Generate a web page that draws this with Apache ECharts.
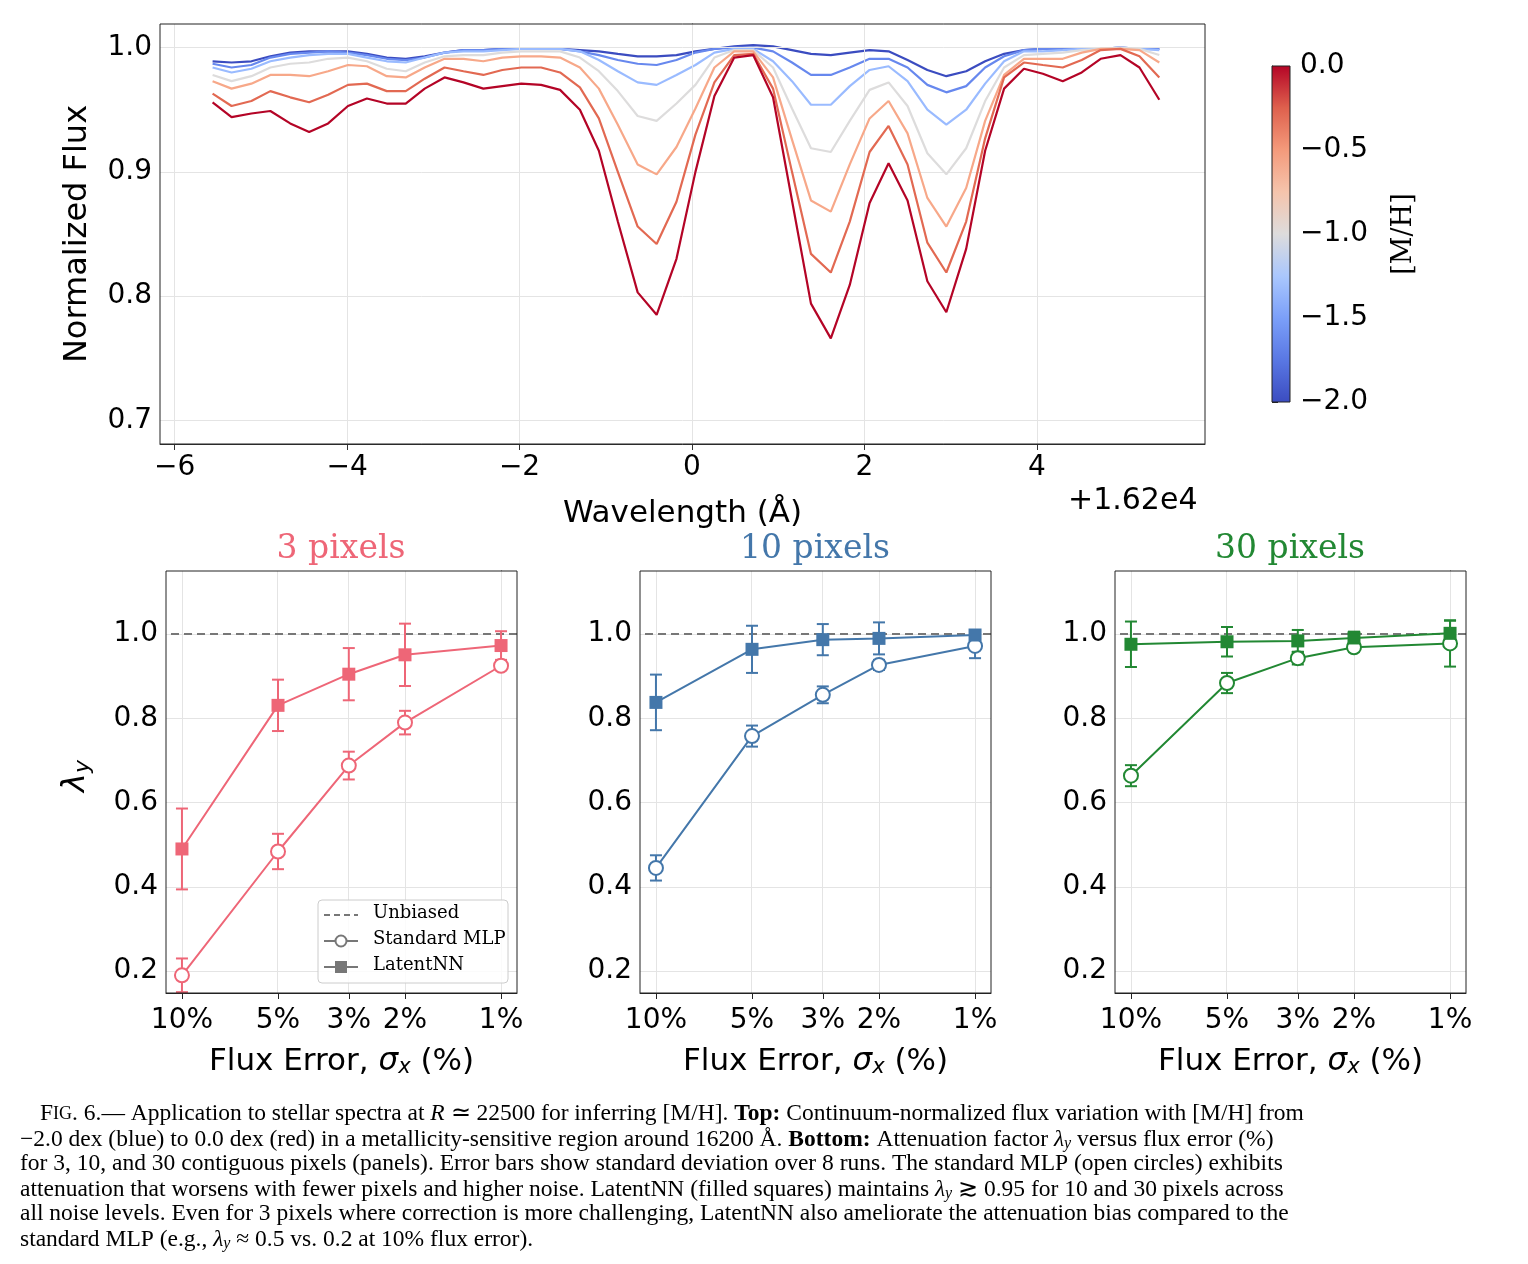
<!DOCTYPE html>
<html lang="en">
<head>
<meta charset="UTF-8" />
<title>Fig 6</title>
<script src="https://cdn.jsdelivr.net/npm/echarts@6/dist/echarts.min.js"></script>
<style>body{margin:0;background:#fff}</style>
</head>
<body>
<div id="main" style="width:1528px;height:1264px"></div>
<script>
// 波长偏移 (+1.62e4 Å)
var wave = [-5.56,-5.34,-5.11,-4.89,-4.66,-4.44,-4.22,-3.99,-3.77,-3.54,-3.32,-3.10,-2.87,-2.65,-2.42,-2.20,-1.98,-1.75,-1.53,-1.30,
  -1.08,-0.86,-0.63,-0.41,-0.18,0.04,0.26,0.49,0.71,0.94,1.16,1.38,1.61,1.83,2.06,2.28,2.50,2.73,2.95,3.18,
  3.40,3.62,3.85,4.07,4.30,4.52,4.74,4.97,5.19,5.42]
var metal = [-2.0, -1.667, -1.333, -1.0, -0.667, -0.333, 0.0]
var metalColors = ["#3b4cc0", "#6788ee", "#9abbff", "#dddcdc", "#f7a889", "#e26952", "#b40426"]
var flux = [
  [0.989,0.988,0.989,0.993,0.996,0.997,0.997,0.997,0.995,0.992,0.991,0.993,0.996,0.998,0.998,0.999,0.999,0.999,0.999,0.998,
   0.997,0.995,0.993,0.993,0.994,0.997,0.999,1.001,1.002,1.001,0.998,0.995,0.994,0.996,0.998,0.997,0.990,0.982,0.977,0.981,
   0.989,0.995,0.998,0.999,0.999,0.999,0.999,1.000,0.999,0.999],
  [0.987,0.984,0.986,0.992,0.995,0.996,0.997,0.996,0.994,0.991,0.990,0.992,0.996,0.998,0.998,0.999,0.999,0.999,0.999,0.997,
   0.994,0.990,0.987,0.986,0.990,0.996,0.999,1.000,1.000,0.997,0.988,0.978,0.978,0.984,0.991,0.991,0.984,0.970,0.964,0.969,
   0.984,0.993,0.998,0.999,0.999,0.999,0.999,1.000,0.999,0.999],
  [0.984,0.980,0.983,0.989,0.992,0.994,0.995,0.995,0.992,0.989,0.988,0.992,0.996,0.997,0.997,0.998,0.999,0.999,0.999,0.997,
   0.990,0.981,0.972,0.970,0.978,0.986,0.996,0.999,0.999,0.989,0.973,0.954,0.954,0.969,0.982,0.985,0.973,0.950,0.938,0.950,
   0.971,0.989,0.997,0.997,0.998,0.999,0.999,1.000,0.999,0.998],
  [0.978,0.973,0.977,0.984,0.987,0.988,0.991,0.992,0.989,0.983,0.981,0.988,0.993,0.994,0.994,0.996,0.997,0.997,0.997,0.992,
   0.981,0.965,0.945,0.941,0.955,0.970,0.992,0.998,0.998,0.984,0.951,0.919,0.916,0.941,0.966,0.972,0.953,0.915,0.898,0.919,
   0.957,0.984,0.994,0.995,0.996,0.998,0.999,1.000,0.999,0.994],
  [0.973,0.967,0.971,0.978,0.978,0.977,0.981,0.986,0.985,0.977,0.976,0.984,0.991,0.991,0.989,0.992,0.993,0.993,0.992,0.984,
   0.967,0.938,0.906,0.898,0.920,0.951,0.984,0.997,0.997,0.976,0.926,0.877,0.868,0.906,0.943,0.957,0.931,0.879,0.856,0.887,
   0.941,0.978,0.991,0.991,0.991,0.996,0.999,0.999,0.998,0.988],
  [0.963,0.953,0.957,0.965,0.960,0.956,0.962,0.970,0.971,0.965,0.965,0.975,0.984,0.981,0.978,0.982,0.984,0.984,0.980,0.968,
   0.943,0.900,0.856,0.842,0.876,0.930,0.972,0.994,0.995,0.967,0.900,0.834,0.819,0.860,0.916,0.937,0.906,0.843,0.819,0.860,
   0.927,0.976,0.988,0.986,0.984,0.990,0.998,0.999,0.993,0.976],
  [0.956,0.944,0.947,0.949,0.939,0.932,0.939,0.953,0.959,0.955,0.955,0.967,0.976,0.972,0.967,0.969,0.971,0.970,0.966,0.950,
   0.917,0.860,0.803,0.785,0.830,0.900,0.961,0.992,0.994,0.960,0.877,0.794,0.766,0.809,0.875,0.907,0.877,0.812,0.787,0.838,
   0.917,0.967,0.983,0.979,0.973,0.980,0.991,0.994,0.984,0.958]
]

// 下方三个面板
var fluxErr = [10, 5, 3, 2, 1]
var panelTitles = ["3 pixels", "10 pixels", "30 pixels"]
var panelColors = ["#ee6677", "#4477aa", "#228833"]
var mlpVals = [[0.190,0.484,0.688,0.790,0.925],[0.445,0.758,0.856,0.927,0.972],[0.664,0.884,0.943,0.969,0.978]]
var mlpErrs = [[0.040,0.042,0.033,0.028,0.010],[0.030,0.025,0.020,0.012,0.029],[0.025,0.024,0.015,0.010,0.055]]
var latVals = [[0.490,0.831,0.905,0.951,0.973],[0.838,0.964,0.987,0.990,0.998],[0.976,0.982,0.984,0.991,1.002]]
var latErrs = [[0.096,0.061,0.062,0.074,0.034],[0.066,0.056,0.037,0.038,0.010],[0.054,0.035,0.026,0.015,0.030]]
var lamTicks = [0.2, 0.4, 0.6, 0.8, 1.0]

var chart = echarts.init(document.getElementById("main"))
var sans = "DejaVu Sans"
var serif = "DejaVu Serif"
var minus = function (s) { return String(s).replace("-", "\u2212") }

var grids = [{ left: 160, top: 24, width: 1045, height: 420 }]
var xAxes = [{
  gridIndex: 0, type: "value", min: -6.17, max: 5.95,
  axisLine: { onZero: false, lineStyle: { color: "#333", width: 1 } },
  axisTick: { customValues: [-6,-4,-2,0,2,4], length: 6, lineStyle: { color: "#333" } },
  axisLabel: { customValues: [-6,-4,-2,0,2,4], fontFamily: sans, fontSize: 28, color: "#000", margin: 10, formatter: minus },
  splitLine: { show: false },
  name: "Wavelength (\u00c5)", nameLocation: "middle", nameGap: 54,
  nameTextStyle: { fontFamily: sans, fontSize: 31, color: "#000" }
}]
var yAxes = [{
  gridIndex: 0, type: "value", min: 0.681, max: 1.019,
  axisLine: { show: true, lineStyle: { color: "#333" } },
  axisTick: { show: true, customValues: [0.7,0.8,0.9,1.0], length: 6, lineStyle: { color: "#333" } },
  axisLabel: { customValues: [0.7,0.8,0.9,1.0], fontFamily: sans, fontSize: 28, color: "#000", formatter: function (v) { return v.toFixed(1) } },
  splitLine: { show: false },
  name: "Normalized Flux", nameLocation: "middle", nameGap: 66,
  nameTextStyle: { fontFamily: sans, fontSize: 32, color: "#000" }
}]
var series = []

function gridLines(xi, xs, ys) {
  var d = []
  xs.forEach(function (v) { d.push({ xAxis: v }) })
  ys.forEach(function (v) { d.push({ yAxis: v }) })
  return {
    type: "line", xAxisIndex: xi, yAxisIndex: xi, data: [], z: 0, silent: true,
    markLine: { silent: true, symbol: "none", label: { show: false }, animation: false,
      lineStyle: { color: "#e4e4e4", width: 1, type: "solid" }, data: d }
  }
}
series.push(gridLines(0, [-6,-4,-2,0,2,4], [0.7,0.8,0.9,1.0]))

flux.forEach(function (arr, k) {
  series.push({
    type: "line", name: String(metal[k]), xAxisIndex: 0, yAxisIndex: 0, showSymbol: false, z: 2 + k,
    lineStyle: { color: metalColors[k], width: 2.2 },
    data: arr.map(function (v, i) { return [wave[i], v] })
  })
})

var lefts = [166, 640, 1115]
var logX = fluxErr.map(function (s) { return Math.log10(s) })
function errBars(xi, vals, errs, color) {
  return {
    type: "custom", xAxisIndex: xi, yAxisIndex: xi, z: 5,
    data: vals.map(function (v, i) { return [logX[i], v, errs[i]] }),
    renderItem: function (params, api) {
      var x = api.value(0), y = api.value(1), e = api.value(2)
      var lo = api.coord([x, y - e]), hi = api.coord([x, y + e])
      var st = { stroke: color, lineWidth: 2 }
      return { type: "group", children: [
        { type: "line", shape: { x1: lo[0], y1: lo[1], x2: hi[0], y2: hi[1] }, style: st },
        { type: "line", shape: { x1: lo[0] - 6, y1: lo[1], x2: lo[0] + 6, y2: lo[1] }, style: st },
        { type: "line", shape: { x1: hi[0] - 6, y1: hi[1], x2: hi[0] + 6, y2: hi[1] }, style: st }
      ] }
    }
  }
}

for (var p = 0; p < 3; p++) {
  var gi = p + 1
  grids.push({ left: lefts[p], top: 571, width: 351, height: 422 })
  xAxes.push({
    gridIndex: gi, type: "value", inverse: true, min: -0.05, max: 1.05,
    axisLine: { onZero: false, lineStyle: { color: "#222" } },
    axisTick: { customValues: logX, length: 6, lineStyle: { color: "#222" } },
    axisLabel: { customValues: logX, fontFamily: sans, fontSize: 28, color: "#000", margin: 14,
      formatter: function (v) { return Math.round(Math.pow(10, v)) + "%" } },
    splitLine: { show: false },
    name: "Flux Error, {i|\u03c3}{s|x} (%)", nameLocation: "middle", nameGap: 52,
    nameTextStyle: { fontFamily: sans, fontSize: 31, color: "#000",
      rich: { i: { fontFamily: sans, fontSize: 31, fontStyle: "italic" }, s: { fontFamily: sans, fontSize: 21, fontStyle: "italic", padding: [12, 0, 0, 0] } } }
  })
  yAxes.push({
    gridIndex: gi, type: "value", min: 0.148, max: 1.15,
    axisLine: { show: true, lineStyle: { color: "#222" } },
    axisTick: { show: true, customValues: lamTicks, length: 6, lineStyle: { color: "#222" } },
    axisLabel: { customValues: lamTicks, fontFamily: sans, fontSize: 28, color: "#000", formatter: function (v) { return v.toFixed(1) } },
    splitLine: { show: false }
  })
  var c = panelColors[p]
  series.push(gridLines(gi, logX, lamTicks))
  series.push({
    type: "line", xAxisIndex: gi, yAxisIndex: gi, data: [], z: 1, silent: true,
    markLine: { silent: true, symbol: "none", label: { show: false }, animation: false,
      lineStyle: { color: "#777", width: 2, type: [8, 5] }, data: [{ yAxis: 1.0 }] }
  })
  series.push(errBars(gi, mlpVals[p], mlpErrs[p], c))
  series.push(errBars(gi, latVals[p], latErrs[p], c))
  series.push({
    type: "line", xAxisIndex: gi, yAxisIndex: gi, z: 6, symbol: "emptyCircle", symbolSize: 14,
    lineStyle: { color: c, width: 2 }, itemStyle: { color: c, borderColor: c, borderWidth: 3 },
    data: mlpVals[p].map(function (v, i) { return [logX[i], v] })
  })
  series.push({
    type: "line", xAxisIndex: gi, yAxisIndex: gi, z: 7, symbol: "rect", symbolSize: 13,
    lineStyle: { color: c, width: 2 }, itemStyle: { color: c },
    data: latVals[p].map(function (v, i) { return [logX[i], v] })
  })
}

// 色标
grids.push({ left: 1272, top: 66, width: 18, height: 336 })
xAxes.push({ gridIndex: 4, type: "value", show: false, min: 0, max: 1 })
yAxes.push({
  gridIndex: 4, type: "value", position: "right", min: -2, max: 0, interval: 0.5,
  axisLine: { show: true, lineStyle: { color: "#222" } },
  axisTick: { show: true, length: 6, lineStyle: { color: "#222" } },
  axisLabel: { fontFamily: sans, fontSize: 28, color: "#000", margin: 10, formatter: function (v) { return minus(v.toFixed(1)) } },
  splitLine: { show: false },
  name: "[M/H]", nameLocation: "middle", nameGap: 100, nameRotate: 90,
  nameTextStyle: { fontFamily: serif, fontSize: 27, color: "#000" }
})
series.push({ type: "line", xAxisIndex: 4, yAxisIndex: 4, data: [] })

var legendX = 318, legendY = 900
var capY = 1116, capGap = 25
var capStyle = { fontFamily: "Liberation Serif", fontSize: 23.5, fill: "#000" }
var capRich = {
  b: { fontFamily: "Liberation Serif", fontSize: 23.5, fontWeight: "bold" },
  i: { fontFamily: "Liberation Serif", fontSize: 23.5, fontStyle: "italic" },
  s: { fontFamily: "Liberation Serif", fontSize: 16, fontStyle: "italic", padding: [9, 0, 0, 0] },
  sc: { fontFamily: "Liberation Serif", fontSize: 18 }
}
var capLines = [
  "F{sc|IG}. 6.\u2014 Application to stellar spectra at {i|R} \u2243 22500 for inferring [M/H]. {b|Top:} Continuum-normalized flux variation with [M/H] from",
  "\u22122.0 dex (blue) to 0.0 dex (red) in a metallicity-sensitive region around 16200 \u00c5. {b|Bottom:} Attenuation factor {i|\u03bb}{s|y} versus flux error (%)",
  "for 3, 10, and 30 contiguous pixels (panels). Error bars show standard deviation over 8 runs. The standard MLP (open circles) exhibits",
  "attenuation that worsens with fewer pixels and higher noise. LatentNN (filled squares) maintains {i|\u03bb}{s|y} \u2273 0.95 for 10 and 30 pixels across",
  "all noise levels. Even for 3 pixels where correction is more challenging, LatentNN also ameliorate the attenuation bias compared to the",
  "standard MLP (e.g., {i|\u03bb}{s|y} \u2248 0.5 vs. 0.2 at 10% flux error)."
]

var frame = function (g) {
  return { type: "rect", shape: { x: g.left, y: g.top, width: g.width, height: g.height }, z: 30, silent: true,
    style: { fill: null, stroke: "#222", lineWidth: 1 } }
}
var graphic = [
  frame(grids[0]), frame(grids[1]), frame(grids[2]), frame(grids[3]),
  { type: "rect", shape: { x: 1272, y: 66, width: 18, height: 336 }, z: 10,
    style: { stroke: "#222", lineWidth: 1, fill: new echarts.graphic.LinearGradient(0, 0, 0, 1, [
      { offset: 0, color: "#b40426" }, { offset: 0.125, color: "#de604d" }, { offset: 0.25, color: "#f49a7b" },
      { offset: 0.375, color: "#f5c4ac" }, { offset: 0.5, color: "#dddcdc" }, { offset: 0.625, color: "#aac7fd" },
      { offset: 0.75, color: "#7b9ff9" }, { offset: 0.875, color: "#5977e3" }, { offset: 1, color: "#3b4cc0" }]) } },
  { type: "text", left: 1068, top: 486, style: { text: "+1.62e4", fontFamily: sans, fontSize: 30, fill: "#000" } },
  { type: "text", left: 60, top: 760, rotation: Math.PI / 2, style: { text: "{i|\u03bb}{s|y}", fill: "#000",
    rich: { i: { fontFamily: sans, fontSize: 32, fontStyle: "italic" }, s: { fontFamily: sans, fontSize: 22, fontStyle: "italic", padding: [14, 0, 0, 0] } } } },
  // 图例
  { type: "rect", shape: { x: legendX, y: legendY, width: 190, height: 83, r: 4 }, z: 20,
    style: { fill: "rgba(255,255,255,0.85)", stroke: "#ccc", lineWidth: 1 } },
  { type: "line", shape: { x1: legendX + 6, y1: legendY + 15, x2: legendX + 40, y2: legendY + 15 }, z: 21,
    style: { stroke: "#777", lineWidth: 2, lineDash: [6, 4] } },
  { type: "line", shape: { x1: legendX + 6, y1: legendY + 41, x2: legendX + 40, y2: legendY + 41 }, z: 21, style: { stroke: "#777", lineWidth: 2 } },
  { type: "circle", shape: { cx: legendX + 23, cy: legendY + 41, r: 5.5 }, z: 22, style: { fill: "#fff", stroke: "#777", lineWidth: 2 } },
  { type: "line", shape: { x1: legendX + 6, y1: legendY + 67, x2: legendX + 40, y2: legendY + 67 }, z: 21, style: { stroke: "#777", lineWidth: 2 } },
  { type: "rect", shape: { x: legendX + 17, y: legendY + 61, width: 12, height: 12 }, z: 22, style: { fill: "#777" } }
]
;["Unbiased", "Standard MLP", "LatentNN"].forEach(function (t, i) {
  graphic.push({ type: "text", x: legendX + 55, y: legendY + 4 + 26 * i, z: 22,
    style: { text: t, fontFamily: serif, fontSize: 18, fill: "#000" } })
})
panelTitles.forEach(function (t, i) {
  graphic.push({ type: "text", x: lefts[i] + 175, y: 533,
    style: { text: t, fontFamily: serif, fontSize: 33, fill: panelColors[i], align: "center" } })
})
capLines.forEach(function (t, i) {
  graphic.push({ type: "text", x: i === 0 ? 40 : 20, y: capY - 14 + capGap * i,
    style: Object.assign({ text: t, rich: capRich }, capStyle) })
})

chart.setOption({
  animation: false,
  grid: grids, xAxis: xAxes, yAxis: yAxes, series: series, graphic: graphic
})
</script>
</body>
</html>
